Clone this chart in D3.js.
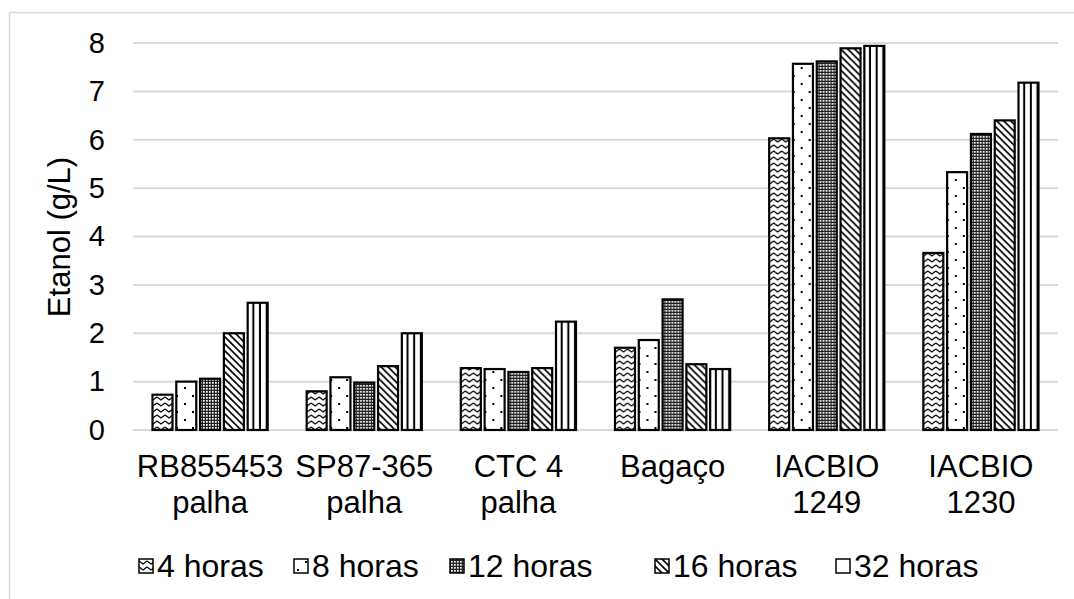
<!DOCTYPE html>
<html>
<head>
<meta charset="utf-8">
<script src="https://cdn.jsdelivr.net/npm/d3@7"></script>
<style>
  html, body { margin: 0; padding: 0; background: #fff; }
  svg { display: block; font-family: "Liberation Sans", Arial, sans-serif; }
</style>
</head>
<body>
<svg id="chart" width="1074" height="599"></svg>
<script>
// Ethanol concentration (g/L) per substrate and fermentation time
const categories = [
  ["RB855453", "palha"],
  ["SP87-365", "palha"],
  ["CTC 4", "palha"],
  ["Bagaço"],
  ["IACBIO", "1249"],
  ["IACBIO", "1230"]
];
const seriesNames = ["4 horas", "8 horas", "12 horas", "16 horas", "32 horas"];
const h4  = [0.73, 0.80, 1.28, 1.70, 6.03, 3.66];
const h8  = [1.00, 1.09, 1.26, 1.86, 7.57, 5.33];
const h12 = [1.06, 0.98, 1.20, 2.70, 7.62, 6.12];
const h16 = [2.00, 1.32, 1.28, 1.36, 7.89, 6.40];
const h32 = [2.63, 2.00, 2.24, 1.26, 7.94, 7.18];
const yTicks = [0, 1, 2, 3, 4, 5, 6, 7, 8];

const seriesValues = [h4, h8, h12, h16, h32];
const patternIds = ["pWave", "pDots", "pGrid", "pDiag", "pVert"];

const svg = d3.select("#chart");
const W = 1074, H = 599;
const plot = { left: 133, right: 1058, top: 43, bottom: 430 };
const fontSize = 31;

// ---- fill patterns ----
const defs = svg.append("defs");

// zigzag rows
const pw = defs.append("pattern").attr("id", "pWave")
  .attr("patternUnits", "userSpaceOnUse").attr("width", 8).attr("height", 6);
pw.append("rect").attr("width", 8).attr("height", 6).attr("fill", "#fff");
pw.append("path").attr("d", "M0,1 L4,4 L8,1").attr("fill", "none")
  .attr("stroke", "#000").attr("stroke-width", 1.3);

// sparse dots
const pd = defs.append("pattern").attr("id", "pDots")
  .attr("patternUnits", "userSpaceOnUse").attr("width", 16).attr("height", 16);
pd.append("rect").attr("width", 16).attr("height", 16).attr("fill", "#fff");
pd.append("rect").attr("x", 3).attr("y", 3).attr("width", 2).attr("height", 2).attr("fill", "#000");
pd.append("rect").attr("x", 11).attr("y", 11).attr("width", 2).attr("height", 2).attr("fill", "#000");

// dense grid
const pg = defs.append("pattern").attr("id", "pGrid")
  .attr("patternUnits", "userSpaceOnUse").attr("width", 3).attr("height", 3);
pg.append("rect").attr("width", 3).attr("height", 3).attr("fill", "#222");
pg.append("rect").attr("x", 1).attr("y", 1).attr("width", 1.7).attr("height", 1.7).attr("fill", "#fff");

// downward diagonal hatch
const pdg = defs.append("pattern").attr("id", "pDiag")
  .attr("patternUnits", "userSpaceOnUse").attr("width", 7).attr("height", 7);
pdg.append("rect").attr("width", 7).attr("height", 7).attr("fill", "#fff");
pdg.append("path").attr("d", "M-1,-1 L8,8 M-1,6 L1,8 M6,-1 L8,1")
  .attr("stroke", "#000").attr("stroke-width", 1.6);

// vertical lines, three per bar
const pv = defs.append("pattern").attr("id", "pVert")
  .attr("patternUnits", "objectBoundingBox").attr("width", 1 / 3).attr("height", 1);
pv.append("rect").attr("width", 50).attr("height", 2000).attr("fill", "#fff");

// ---- scales ----
const x0 = d3.scaleBand().domain(d3.range(categories.length))
  .range([plot.left, plot.right]).paddingInner(0).paddingOuter(0);
const x1 = d3.scaleBand().domain(d3.range(seriesNames.length))
  .range([19.5, x0.bandwidth() - 19.5]).paddingInner(0.16).paddingOuter(0);
const y = d3.scaleLinear().domain([0, 8]).range([plot.bottom, plot.top]);

// line position inside the vertical-line tile depends on bar width
const bw = x1.bandwidth();
pv.append("rect").attr("x", bw / 3 - 2).attr("y", 0).attr("width", 2).attr("height", 2000).attr("fill", "#000");

// ---- chart frame ----
svg.append("rect").attr("x", 9.5).attr("y", 12.5).attr("width", W).attr("height", H)
  .attr("fill", "none").attr("stroke", "#d9d9d9").attr("stroke-width", 1.5);

// ---- gridlines ----
svg.append("g").selectAll("line").data(yTicks).join("line")
  .attr("x1", plot.left).attr("x2", plot.right)
  .attr("y1", d => y(d)).attr("y2", d => y(d))
  .attr("stroke", "#d9d9d9").attr("stroke-width", 2);

// ---- y axis labels ----
const yAxis = d3.axisLeft(y).tickValues(yTicks).tickSize(0).tickPadding(0).tickFormat(d3.format("d"));
const yg = svg.append("g").attr("transform", `translate(${plot.left - 28},0)`).call(yAxis);
yg.select(".domain").remove();
yg.selectAll("text").attr("font-size", 29).attr("fill", "#000")
  .attr("font-family", "Liberation Sans, Arial, sans-serif");

svg.append("text")
  .attr("transform", `translate(70,237) rotate(-90)`)
  .attr("text-anchor", "middle")
  .attr("font-size", fontSize).attr("fill", "#000")
  .text("Etanol (g/L)");

// ---- bars ----
const groups = svg.append("g").selectAll("g").data(categories.map((c, i) => i)).join("g")
  .attr("transform", i => `translate(${x0(i)},0)`);

groups.selectAll("rect")
  .data(i => seriesValues.map((vals, s) => ({ s, v: vals[i] })))
  .join("rect")
  .attr("x", d => x1(d.s))
  .attr("y", d => y(d.v))
  .attr("width", x1.bandwidth())
  .attr("height", d => y(0) - y(d.v))
  .attr("fill", d => `url(#${patternIds[d.s]})`)
  .attr("stroke", "#000").attr("stroke-width", 2.2);

// ---- category labels ----
const catG = svg.append("g");
categories.forEach((lines, i) => {
  const t = catG.append("text")
    .attr("x", x0(i) + x0.bandwidth() / 2)
    .attr("text-anchor", "middle")
    .attr("font-size", fontSize).attr("fill", "#000");
  lines.forEach((ln, k) => {
    t.append("tspan").attr("x", x0(i) + x0.bandwidth() / 2)
      .attr("y", 477 + k * 36).text(ln);
  });
});

// ---- legend ----
const legendX = [139, 294, 450, 655, 836];
const lg = svg.append("g").selectAll("g").data(seriesNames).join("g")
  .attr("transform", (d, i) => `translate(${legendX[i]},566)`);
lg.append("rect").attr("x", 0).attr("y", -7).attr("width", 14).attr("height", 14)
  .attr("fill", (d, i) => `url(#${patternIds[i]})`)
  .attr("stroke", "#000").attr("stroke-width", 1.5);
lg.append("text").attr("x", 18).attr("y", 11)
  .attr("font-size", 32).attr("fill", "#000")
  .text(d => d);
</script>
</body>
</html>
